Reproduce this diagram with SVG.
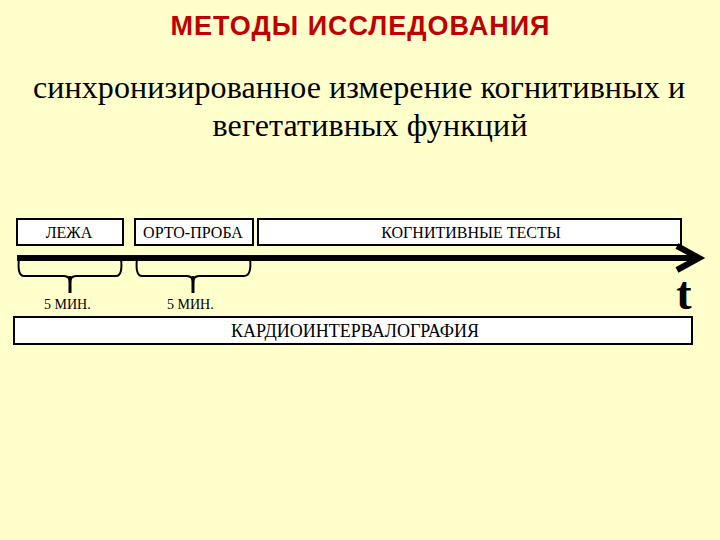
<svg xmlns="http://www.w3.org/2000/svg" width="720" height="540" viewBox="0 0 720 540">
<style>
.box{fill:#fff;stroke:#000;stroke-width:2}
.bt{font-family:"Liberation Serif",serif;font-size:16px;text-anchor:middle;fill:#000}
.big{font-size:18px}
.brace{fill:none;stroke:#000;stroke-width:2}
.tip{fill:none;stroke:#000;stroke-width:3}
.min{font-family:"Liberation Serif",serif;font-size:14px;fill:#000}
.sub{font-family:"Liberation Serif",serif;font-size:32px;text-anchor:middle;fill:#000}
</style>
<rect width="720" height="540" fill="#FFFFCC"/>
<text x="360" y="35" font-family="'Liberation Sans',sans-serif" font-weight="bold" font-size="27" text-anchor="middle" fill="#C00000" textLength="379">МЕТОДЫ ИССЛЕДОВАНИЯ</text>
<text class="sub" x="359" y="98" textLength="652">синхронизированное измерение когнитивных и</text>
<text class="sub" x="370" y="136" textLength="315">вегетативных функций</text>
<g id="lezha"><rect class="box" x="17" y="219" width="106" height="26"/><text class="bt" x="69" y="238">ЛЕЖА</text></g>
<g id="orto"><rect class="box" x="135" y="219" width="118" height="26"/><text class="bt" x="193" y="238">ОРТО-ПРОБА</text></g>
<g id="cog"><rect class="box" x="258" y="219" width="423" height="26"/><text class="bt" x="471" y="238">КОГНИТИВНЫЕ ТЕСТЫ</text></g>
<g id="connectors">
<line x1="17" y1="258" x2="694" y2="258" stroke="#000" stroke-width="6"/>
<polyline points="677,246 699,258 677,270" fill="none" stroke="#000" stroke-width="6"/>
<path class="brace" d="M19,258 Q17,276 24,276 L64,276 Q70,276 70,283 Q70,276 76,276 L116,276 Q123,276 121,258"/>
<line class="tip" x1="70" y1="276" x2="70" y2="293"/>
<path class="brace" d="M137,258 Q135,276 142,276 L187,276 Q193,276 193,283 Q193,276 199,276 L244,276 Q252,276 250,258"/>
<line class="tip" x1="193" y1="276" x2="193" y2="293"/>
</g>
<text class="min" x="44" y="309">5 МИН.</text>
<text class="min" x="167" y="309">5 МИН.</text>
<text x="684" y="309" font-family="'Liberation Serif',serif" font-weight="bold" font-size="46" text-anchor="middle" fill="#000">t</text>
<g id="kig"><rect class="box" x="14" y="317" width="678" height="27"/><text class="bt big" x="355" y="337">КАРДИОИНТЕРВАЛОГРАФИЯ</text></g>
</svg>
